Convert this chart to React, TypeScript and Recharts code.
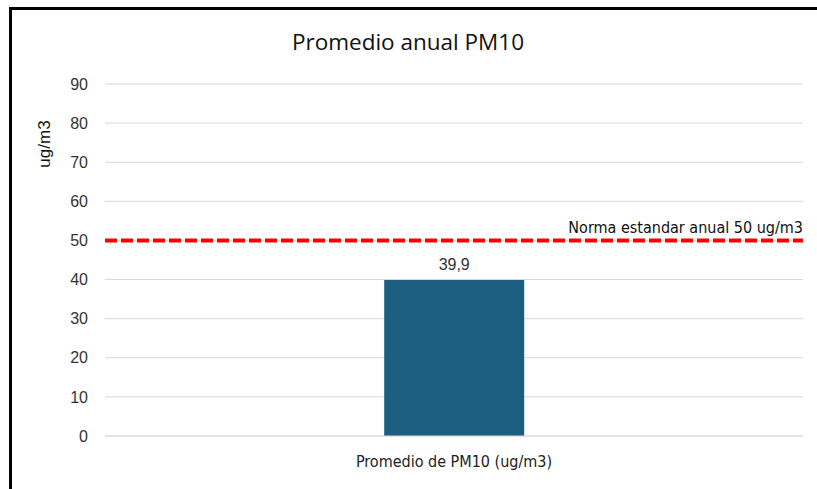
import React from 'react';
import { BarChart, Bar, XAxis, YAxis, CartesianGrid, ReferenceLine, LabelList } from 'recharts';

const categories = ['Promedio de PM10 (ug/m3)'];
const pm10Values = [39.9];
const yTicks = [0, 10, 20, 30, 40, 50, 60, 70, 80, 90];
const normaValue = 50;
const normaLabel = 'Norma estandar anual 50 ug/m3';
const titleText = 'Promedio anual PM10';
const yAxisLabel = 'ug/m3';

const data = categories.map((c, i) => ({ name: c, value: pm10Values[i] }));

const narrow = '"Liberation Sans Narrow", "DejaVu Sans Condensed", "Roboto Condensed", sans-serif';
const sans = '"Liberation Sans", Arial, sans-serif';

const NormaLabel = (props: any) => {
  const vb = props.viewBox || {};
  return (
    <text x={vb.x + vb.width} y={vb.y - 7} textAnchor="end" fontFamily={narrow} fontSize={16} fill="#111">
      {normaLabel}
    </text>
  );
};

export default function App() {
  return (
    <div style={{ position: 'fixed', left: 0, top: 0, width: 817, height: 489, overflow: 'hidden', background: '#fff' }}>
      <div style={{ position: 'absolute', left: 9, top: 7, width: 900, height: 600, borderTop: '3px solid #000', borderLeft: '3px solid #000' }} />
      <div style={{ position: 'absolute', left: 0, top: 0 }}>
        <BarChart width={817} height={489} data={data} margin={{ top: 84, right: 14, bottom: 23, left: 0 }} barCategoryGap="40%">
          <text x={408} y={50} textAnchor="middle" fontFamily='"Open Sans", sans-serif' fontSize={22.5} fill="#111">{titleText}</text>
          <text x={44} y={144} textAnchor="middle" dominantBaseline="central" transform="rotate(-90 44 144)" fontFamily={sans} fontSize={17} fill="#111">{yAxisLabel}</text>
          <CartesianGrid vertical={false} stroke="#d9d9d9" />
          <XAxis dataKey="name" axisLine={{ stroke: '#d9d9d9' }} tickLine={false} tickMargin={14} tick={{ fontFamily: narrow, fontSize: 16, fill: '#222' }} />
          <YAxis width={105} domain={[0, 90]} ticks={yTicks} axisLine={false} tickLine={false} tickMargin={11} tick={{ fontFamily: sans, fontSize: 16, fill: '#333' }} />
          <Bar dataKey="value" fill="#1b5e80" isAnimationActive={false}>
            <LabelList dataKey="value" position="top" offset={10} formatter={(v: any) => String(v).replace('.', ',')} style={{ fontFamily: sans, fontSize: 16, fill: '#333' }} />
          </Bar>
          <ReferenceLine y={normaValue} stroke="#ff0000" strokeWidth={4} strokeDasharray="12 4" label={<NormaLabel />} />
        </BarChart>
      </div>
    </div>
  );
}
